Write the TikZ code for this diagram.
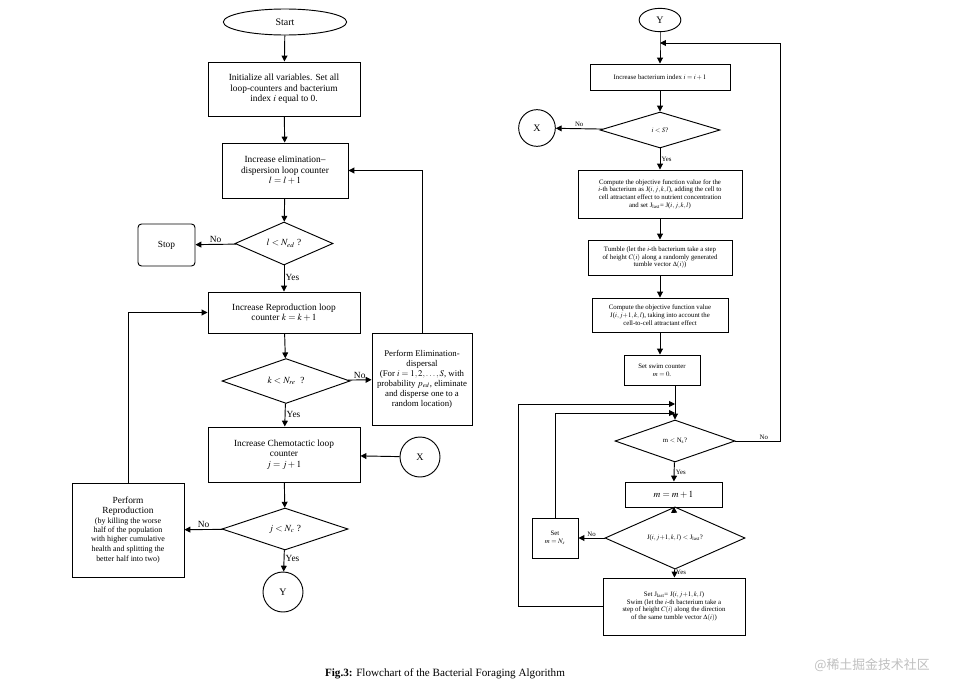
\documentclass[tikz,border=0pt]{standalone}
\usepackage{mathptmx}
\usepackage{fontspec}
\setmainfont{Liberation Serif}
\newfontfamily\cjk{Noto Sans CJK SC}
\usetikzlibrary{shapes.geometric,arrows.meta}
\newcommand\bx[7][]{\pgfmathsetmacro\bw{(#5-#3)*0.03}\pgfmathsetmacro\bh{(#6-#4)*0.03}\pgfmathsetmacro\tw{(#5-#3-6)*0.03}%
\node[box,minimum width=\bw cm,minimum height=\bh cm,text width=\tw cm,#1] (#2) at ({(#3+#5)/2},{(#4+#6)/2}) {#7};}
\newcommand\dm[7][]{\pgfmathsetmacro\bw{(#5-#3)*0.03}\pgfmathsetmacro\bh{(#6-#4)*0.03}%
\node[dia,minimum width=\bw cm,minimum height=\bh cm,#1] (#2) at ({(#3+#5)/2},{(#4+#6)/2}) {#7};}
\tikzset{
 box/.style={draw,thick,align=flush center,inner sep=1pt,font=\fontsize{8}{9}\selectfont},
 sbox/.style={font=\fontsize{5.8}{6.6}\selectfont},
 dia/.style={draw,thick,diamond,inner sep=0pt,font=\fontsize{8}{9}\selectfont},
 circ/.style={draw,thick,circle,inner sep=0pt,font=\fontsize{8.5}{9}\selectfont},
 ar/.style={thick,-{Triangle[length=5pt,width=5pt]}},
 ln/.style={thick},
 lb/.style={font=\fontsize{8}{9}\selectfont,inner sep=1pt}
}
\begin{document}
\begin{tikzpicture}[x=0.03cm,y=-0.03cm]
\useasboundingbox (0,0) rectangle (971,698);
% left column
\node[circ,ellipse,minimum width=3.7cm,minimum height=0.78cm] (start) at (285,22) {Start};
\bx{init}{208}{62}{360}{116}{Initialize all variables. Set all\\ loop-counters and bacterium\\ index $i$ equal to 0.}
\bx{elim}{222}{143}{348}{198}{Increase elimination--\\ dispersion loop counter\\ $l=l+1$}
\dm{d1}{235}{222}{333}{265}{$l<N_{ed}$ ?}
\bx[rounded corners=3pt]{stop}{138}{224}{195}{266}{Stop}
\bx{repr}{208}{292}{360}{333}{Increase Reproduction loop\\ counter $k=k+1$}
\dm{d2}{222}{360}{350}{402}{$k<N_{re}$\ \ ?}
\bx[font=\fontsize{7.5}{8.5}\selectfont]{ed}{372}{333}{472}{425}{Perform Elimination-\\ dispersal\\ (For $i=1,2,\ldots,S$, with probability $p_{ed}$, eliminate and disperse one to a random location)}
\bx{chem}{208}{427}{360}{482}{Increase Chemotactic loop\\ counter\\ $j=j+1$}
\node[circ,minimum size=1.2cm] (xl) at (420,457) {X};
\dm{d3}{222}{508}{348}{550}{$j<N_c$ ?}
\node[circ,minimum size=1.2cm] (yl) at (283,592) {Y};
\bx{rp}{72}{483}{184}{577}{Perform\\ Reproduction\\ {\fontsize{6.8}{8}\selectfont(by killing the worse\\ half of the population\\ with higher cumulative\\ health and splitting the\\ better half into two)}}
\draw[ar] (start) -- (init);
\draw[ar] (init) -- (elim);
\draw[ar] (elim) -- (d1);
\draw[ar] (d1) -- node[lb,above]{No} (stop);
\draw[ar] (d1) -- node[lb,right,pos=0.45]{Yes} (repr);
\draw[ar] (repr) -- (d2);
\draw[ar] (d2) -- node[lb,above]{No} (ed);
\draw[ar] (d2) -- node[lb,right,pos=0.45]{Yes} (chem);
\draw[ar] (xl) -- (chem);
\draw[ar] (chem) -- (d3);
\draw[ar] (d3) -- node[lb,above]{No} (rp);
\draw[ar] (d3) -- node[lb,right,pos=0.4]{Yes} (yl);
\draw[ar] (rp.north) |- (repr.west);
\draw[ar] (ed.north) |- (elim.east);
% right column
\node[circ,ellipse,minimum width=1.25cm,minimum height=0.7cm] (yr) at (660,20) {Y};
\coordinate (top) at (660,43);
\bx[sbox]{r1}{590}{64}{730}{90}{Increase bacterium index $i=i+1$}
\dm[sbox]{rd1}{600}{112}{720}{148}{$i<S$?}
\node[circ,minimum size=1.1cm] (xr) at (537,128) {X};
\bx[sbox]{r2}{578}{170}{742}{218}{Compute the objective function value for the\\ $i$-th bacterium as J($i,j,k,l$), adding the cell to\\ cell attractant effect to nutrient concentration\\ and set J$_{\rm last}$= J($i,j,k,l$)}
\bx[sbox]{r3}{588}{240}{732}{275}{Tumble (let the $i$-th bacterium take a step\\ of height $C(i)$ along a randomly generated\\ tumble vector $\Delta(i)$)}
\bx[sbox]{r4}{592}{298}{728}{332}{Compute the objective function value\\ J($i,j{+}1,k,l$), taking into account the\\ cell-to-cell attractant effect}
\bx[sbox]{r5}{624}{355}{700}{385}{Set swim counter\\ $m=0$.}
\coordinate (m1) at (675,404);
\coordinate (m2) at (675,413);
\dm[sbox]{rd2}{615}{420}{735}{462}{m $<$ N$_{\rm s}$?}
\bx[box]{r6}{625}{482}{722}{507}{$m=m+1$}
\dm[sbox]{rd3}{605}{518}{745}{558}{J($i,j{+}1,k,l$) $<$ J$_{\rm last}$?}
\bx[sbox]{set}{532}{518}{578}{558}{Set\\ $m=N_s$}
\bx[sbox]{swim}{603}{578}{745}{635}{Set J$_{\rm last}$= J($i,j{+}1,k,l$)\\ Swim (let the $i$-th bacterium take a\\ step of height $C(i)$ along the direction\\ of the same tumble vector $\Delta(i)$)}
\draw[ar] (yr) -- (top) -- (r1);
\draw[ar] (r1) -- (rd1);
\draw[ar] (rd1) -- node[lb,above,sbox]{No} (xr);
\draw[ar] (rd1) -- node[lb,right,sbox]{Yes} (r2);
\draw[ar] (r2) -- (r3);
\draw[ar] (r3) -- (r4);
\draw[ar] (r4) -- (r4.south |- r5.north);
\draw[ln] (r5.south -| m1) -- (m1);
\draw[ar] (m2) -- (rd2);
\draw[ar] (rd2) -- node[lb,right,sbox]{Yes} (r6);
\draw[ar] (r6) -- (rd3);
\draw[ar] (rd3) -- node[lb,above,sbox]{No} (set);
\draw[ar] (rd3) -- node[lb,right,sbox,pos=0.35]{Yes} (swim);
\draw[ar] (rd2.east) -- node[lb,above right,sbox]{No} ++(45,0) |- (top);
\draw[ar] (swim.west) -| (518,404) -- (m1);
\draw[ar] (set.north) |- (m2);
\draw[ln] (m1) -- (m2);
% caption
\node[font=\fontsize{9.5}{11}\selectfont] (cap) at (445,674) {\textbf{Fig.3:} Flowchart of the Bacterial Foraging Algorithm};
\node[font=\cjk\fontsize{11}{12}\selectfont,text=gray!50] (wm) at (872,665) {@稀土掘金技术社区};
\end{tikzpicture}
\end{document}
